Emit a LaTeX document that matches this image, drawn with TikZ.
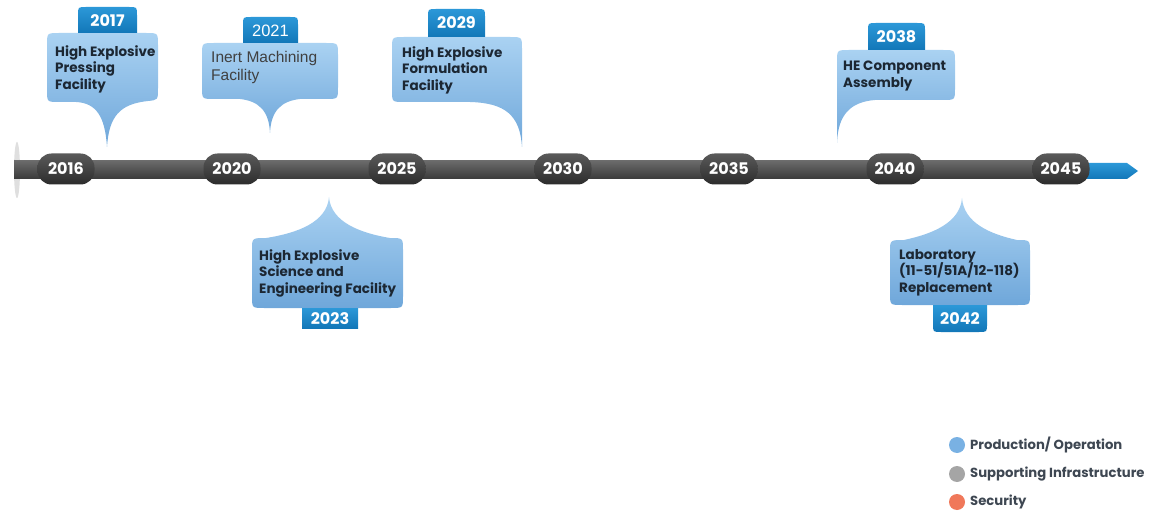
\documentclass[tikz,border=0pt]{standalone}
\usepackage{fontspec}
\setmainfont{Poppins}
\newfontfamily\arialfont{Liberation Sans}
\definecolor{bubTop}{HTML}{AAD2F2}
\definecolor{bubBot}{HTML}{6FA7DA}
\definecolor{tabTop}{HTML}{2C98D8}
\definecolor{tabBot}{HTML}{1277B8}
\definecolor{txtDark}{HTML}{1C2733}
\definecolor{barTop}{HTML}{6A6A6A}
\definecolor{barBot}{HTML}{3A3A3A}
\definecolor{pillTop}{HTML}{5A5A5A}
\definecolor{pillBot}{HTML}{2C2C2C}
\definecolor{legBlue}{HTML}{79B1E3}
\definecolor{legGray}{HTML}{A5A5A5}
\definecolor{legOrange}{HTML}{F0785A}
\newcommand\toptab[4]{%
  \shade[tabshape] (#1,#4) -- (#1,{#2+8}) .. controls (#1,#2) .. ({#1+8},#2) -- ({#3-8},#2) .. controls (#3,#2) .. (#3,{#2+8}) -- (#3,#4) -- cycle;}
\begin{document}
\begin{tikzpicture}[x=1pt,y=-1pt,
  bubble/.style={top color=bubTop, bottom color=bubBot, draw=none},
  tabshape/.style={top color=tabTop, bottom color=tabBot, draw=none},
  tabtext/.style={text=white, font=\fontsize{16}{17}\selectfont\bfseries, inner sep=0},
  body/.style={font=\fontsize{13.5}{16.8}\selectfont\bfseries, text=txtDark, align=left, inner sep=0, anchor=north west},
  pill/.style={rounded corners=14pt, minimum width=57pt, minimum height=31pt, top color=pillTop, bottom color=pillBot, text=white, font=\fontsize{16}{17}\selectfont\bfseries, inner sep=0},
  legdot/.style={circle, minimum size=16pt, inner sep=0},
  legtext/.style={font=\fontsize{13.2}{14}\selectfont\bfseries, text=txtDark!85, anchor=west, inner sep=0}]
\useasboundingbox (0,0) rectangle (1149,513);

% timeline bar
\fill[gray!25] (17,170) ellipse (3 and 28);
\coordinate (barL) at (14,161);
\coordinate (barR) at (1088,179);
\shade[top color=barTop, bottom color=barBot] (barL) rectangle (barR);
\shade[top color=tabTop, bottom color=tabBot] (1084,163) -- (1127,163) -- (1138,171) -- (1127,179) -- (1084,179) -- cycle;

% year pills
\foreach \yr/\xx in {2016/66,2020/232,2025/397,2030/563,2035/729,2040/895,2045/1061}
  \node[pill] (y\yr) at (\xx,169) {\yr};

% callout 2017
\shade[bubble] (59,33) -- (146,33) .. controls (158,33) .. (158,45) -- (158,88)
  .. controls (158,100) .. (148,101) .. controls (120,104) and (109,116) .. (107,147)
  .. controls (105,116) and (96,103) .. (76,102) -- (59,102) .. controls (47,102) .. (47,90)
  -- (47,45) .. controls (47,33) .. (59,33) -- cycle;
\toptab{78}{7}{137}{33}
\node[tabtext] (t2017) at (107.5,20.5) {2017};
\node[body] (c2017) at (55,45) {High Explosive\\Pressing\\Facility};

% callout 2021
\shade[bubble] (214,43) -- (326,43) .. controls (338,43) .. (338,55) -- (338,87)
  .. controls (338,99) .. (326,99) -- (300,99) .. controls (282,101) and (271,110) .. (270,133)
  .. controls (269,110) and (258,101) .. (240,99) -- (214,99) .. controls (202,99) .. (202,87)
  -- (202,55) .. controls (202,43) .. (214,43) -- cycle;
\toptab{243}{17}{298}{43}
\node[text=white, font=\arialfont\fontsize{16.5}{17}\selectfont, inner sep=0] (t2021) at (270.5,31) {2021};
\node[body, font=\arialfont\fontsize{15.5}{18.5}\selectfont, text=black!75] (c2021) at (211,51) {Inert Machining\\Facility};

% callout 2029
\shade[bubble] (404,37) -- (510,37) .. controls (522,37) .. (522,49) -- (522,147)
  .. controls (520,115) and (505,103) .. (470,102) -- (404,102) .. controls (392,102) .. (392,90)
  -- (392,49) .. controls (392,37) .. (404,37) -- cycle;
\toptab{428}{9}{485}{37}
\node[tabtext] (t2029) at (456.5,23) {2029};
\node[body] (c2029) at (402,46) {High Explosive\\Formulation\\Facility};

% callout 2038
\shade[bubble] (837,62) .. controls (837,50) .. (849,50) -- (943,50) .. controls (955,50) .. (955,62)
  -- (955,88) .. controls (955,100) .. (943,100) -- (875,100)
  .. controls (850,102) and (838,115) .. (837,143) -- cycle;
\toptab{868}{23}{925}{50}
\node[tabtext] (t2038) at (896.5,36.5) {2038};
\node[body] (c2038) at (843,61) {HE Component\\Assembly};

% callout 2023 (below)
\shade[bubble] (329,197) .. controls (331,222) and (360,233) .. (390,238) .. controls (403,238) .. (403,250)
  -- (403,296) .. controls (403,308) .. (391,308) -- (264,308) .. controls (252,308) .. (252,296)
  -- (252,250) .. controls (252,238) .. (266,238) .. controls (298,233) and (327,222) .. (329,197) -- cycle;
\shade[tabshape] (302,308) rectangle (358,328);
\node[tabtext] (t2023) at (330,318.5) {2023};
\node[body] (c2023) at (259,249) {High Explosive\\Science and\\Engineering Facility};

% callout 2042 (below)
\shade[bubble] (962,198) .. controls (964,223) and (990,234) .. (1017,240) .. controls (1030,240) .. (1030,252)
  -- (1030,293) .. controls (1030,305) .. (1018,305) -- (902,305) .. controls (890,305) .. (890,293)
  -- (890,252) .. controls (890,240) .. (904,240) .. controls (932,234) and (960,223) .. (962,198) -- cycle;
\shade[tabshape] (933,305) -- (987,305) -- (987,324) .. controls (987,332) .. (979,332)
  -- (941,332) .. controls (933,332) .. (933,324) -- cycle;
\node[tabtext] (t2042) at (960,319) {2042};
\node[body] (c2042) at (899,249) {Laboratory\\(11-51/51A/12-118)\\Replacement};

% legend
\node[legdot, fill=legBlue] (d1) at (957,445) {};
\node[legdot, fill=legGray] (d2) at (957,474) {};
\node[legdot, fill=legOrange] (d3) at (957,502) {};
\node[legtext] (l1) at (970,445) {Production/ Operation};
\node[legtext] (l2) at (970,474) {Supporting Infrastructure};
\node[legtext] (l3) at (970,502) {Security};
\end{tikzpicture}
\end{document}
